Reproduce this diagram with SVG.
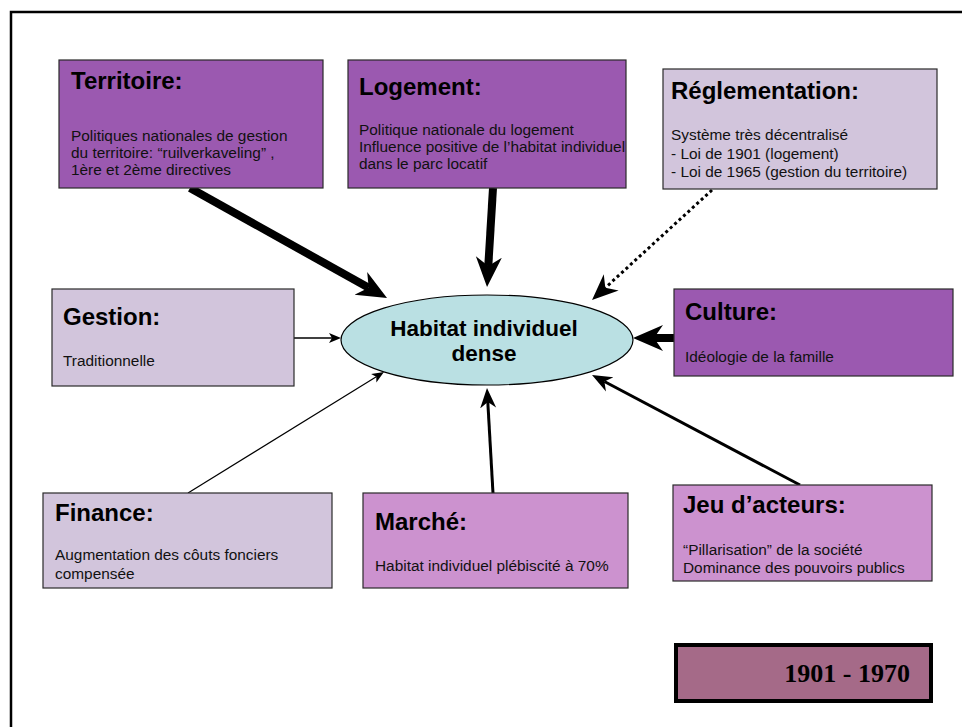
<svg xmlns="http://www.w3.org/2000/svg" width="962" height="727" viewBox="0 0 962 727">
  <style>
    .box { stroke: #2a2a2a; stroke-width: 1.2; }
    .dark { fill: #9b59b0; }
    .light { fill: #d2c5dc; }
    .pink { fill: #cc92cf; }
    .title { font-family: "Liberation Sans", Arial, sans-serif; font-weight: bold; font-size: 24px; fill: #000; }
    .body { font-family: "Liberation Sans", Arial, sans-serif; font-size: 15.4px; fill: #111; }
    .center { font-family: "Liberation Sans", Arial, sans-serif; font-weight: bold; font-size: 22.5px; fill: #000; text-anchor: middle; }
    .link { fill: none; stroke: #000; }
  </style>
  <defs>
    <marker id="head-big" markerUnits="userSpaceOnUse" markerWidth="32" markerHeight="28" viewBox="0 -14 32 28" refX="9" refY="0" orient="auto">
      <path d="M0,-13 L30,0 L0,13 L9,0 Z" fill="#000"/>
    </marker>
    <marker id="head-mid" markerUnits="userSpaceOnUse" markerWidth="28" markerHeight="24" viewBox="0 -12 28 24" refX="8" refY="0" orient="auto">
      <path d="M0,-11 L26,0 L0,11 L8,0 Z" fill="#000"/>
    </marker>
    <marker id="head-med" markerUnits="userSpaceOnUse" markerWidth="22" markerHeight="18" viewBox="0 -9 22 18" refX="6" refY="0" orient="auto">
      <path d="M0,-8 L20,0 L0,8 L6,0 Z" fill="#000"/>
    </marker>
    <marker id="head-small" markerUnits="userSpaceOnUse" markerWidth="14" markerHeight="12" viewBox="0 -6 14 12" refX="3" refY="0" orient="auto">
      <path d="M0,-5 L12,0 L0,5 L3,0 Z" fill="#000"/>
    </marker>
  </defs>

  <rect width="962" height="727" fill="#fff"/>
  <!-- outer frame, running off the right and bottom edges -->
  <path d="M11,727 V12 H962" fill="none" stroke="#000" stroke-width="2.5"/>

  <!-- connectors -->
  <g id="connectors">
    <line class="link" x1="190" y1="188" x2="368.7" y2="287.8" stroke-width="8" marker-end="url(#head-big)"/>
    <line class="link" x1="493" y1="188" x2="488.3" y2="266" stroke-width="8" marker-end="url(#head-big)"/>
    <line class="link" x1="712" y1="190" x2="605.3" y2="287.8" stroke-width="3" stroke-dasharray="3 3" marker-end="url(#head-mid)"/>
    <line class="link" x1="674" y1="338" x2="654" y2="338" stroke-width="8" marker-end="url(#head-big)"/>
    <line class="link" x1="294" y1="338" x2="332" y2="338" stroke-width="1.3" marker-end="url(#head-small)"/>
    <line class="link" x1="188" y1="493" x2="376.3" y2="376.7" stroke-width="1.2" marker-end="url(#head-small)"/>
    <line class="link" x1="493" y1="493" x2="487.8" y2="402" stroke-width="3" marker-end="url(#head-med)"/>
    <line class="link" x1="800" y1="485" x2="604.4" y2="381.5" stroke-width="3" marker-end="url(#head-med)"/>
  </g>

  <g id="center-node">
    <ellipse cx="487" cy="340" rx="146" ry="45" fill="#bae0e3" stroke="#000" stroke-width="1.2"/>
    <text class="center" x="484" y="336">Habitat individuel</text>
    <text class="center" x="484" y="361">dense</text>
  </g>

  <g id="territoire">
    <rect class="box dark" x="59" y="60" width="264" height="128"/>
    <text class="title" x="71" y="89">Territoire:</text>
    <text class="body" x="71" y="141">Politiques nationales de gestion</text>
    <text class="body" x="71" y="158">du territoire: “ruilverkaveling” ,</text>
    <text class="body" x="71" y="175">1ère et 2ème directives</text>
  </g>

  <g id="logement">
    <rect class="box dark" x="348" y="60" width="278" height="128"/>
    <text class="title" x="359" y="95">Logement:</text>
    <text class="body" x="359" y="135">Politique nationale du logement</text>
    <text class="body" x="359" y="152">Influence positive de l’habitat individuel</text>
    <text class="body" x="359" y="169">dans le parc locatif</text>
  </g>

  <g id="reglementation">
    <rect class="box light" x="663" y="69" width="274" height="120"/>
    <text class="title" x="671" y="99">Réglementation:</text>
    <text class="body" x="671" y="140">Système très décentralisé</text>
    <text class="body" x="671" y="159">- Loi de 1901 (logement)</text>
    <text class="body" x="671" y="177">- Loi de 1965 (gestion du territoire)</text>
  </g>

  <g id="gestion">
    <rect class="box light" x="52" y="289" width="242" height="97"/>
    <text class="title" x="63" y="325">Gestion:</text>
    <text class="body" x="63" y="366">Traditionnelle</text>
  </g>

  <g id="culture">
    <rect class="box dark" x="674" y="289" width="279" height="87"/>
    <text class="title" x="685" y="320">Culture:</text>
    <text class="body" x="685" y="362">Idéologie de la famille</text>
  </g>

  <g id="finance">
    <rect class="box light" x="43" y="493" width="289" height="95"/>
    <text class="title" x="55" y="521">Finance:</text>
    <text class="body" x="55" y="560">Augmentation des côuts fonciers</text>
    <text class="body" x="55" y="579">compensée</text>
  </g>

  <g id="marche">
    <rect class="box pink" x="363" y="493" width="265" height="95"/>
    <text class="title" x="375" y="530">Marché:</text>
    <text class="body" x="375" y="571">Habitat individuel plébiscité à 70%</text>
  </g>

  <g id="jeu-acteurs">
    <rect class="box pink" x="673" y="485" width="259" height="96"/>
    <text class="title" x="683" y="513">Jeu d’acteurs:</text>
    <text class="body" x="683" y="555">“Pillarisation” de la société</text>
    <text class="body" x="683" y="573">Dominance des pouvoirs publics</text>
  </g>

  <g id="periode">
    <rect x="676" y="645" width="255" height="56" fill="#a56a88" stroke="#000" stroke-width="4"/>
    <text x="910" y="682" text-anchor="end" font-family="Liberation Serif, 'Times New Roman', serif" font-weight="bold" font-size="26" fill="#000">1901 - 1970</text>
  </g>
</svg>
